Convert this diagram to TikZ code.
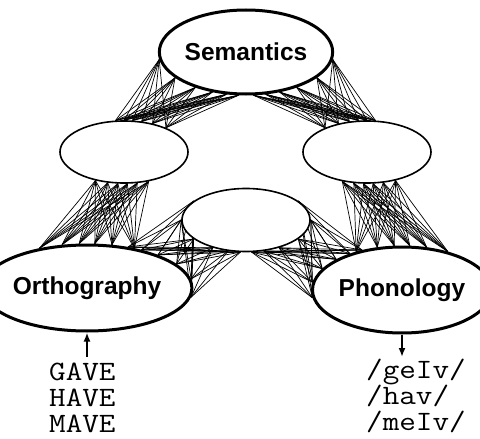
\documentclass[tikz,border=0pt]{standalone}
\usepackage{fontspec}
\setmainfont{Liberation Sans}
\newfontfamily\monofont[FakeStretch=1.15]{Latin Modern Mono}
\usetikzlibrary{shapes.geometric,arrows.meta,backgrounds}
\tikzset{
  bigell/.style={ellipse, draw, line width=3pt, fill=white, inner sep=0pt,
    font=\fontsize{24.5}{24.5}\selectfont\bfseries},
  hidell/.style={ellipse, draw, line width=1.6pt, fill=white, inner sep=0pt},
  conn/.style={line width=0.7pt},
  ioarrow/.style={line width=2.5pt, -{Latex[length=9pt,width=7pt]}},
  iotext/.style={font=\monofont\fontsize{28}{28}\selectfont, anchor=base west, inner sep=0pt}
}
\begin{document}
\begin{tikzpicture}[x=1pt,y=-1pt]
\useasboundingbox (0,0) rectangle (480,439);
\node[bigell, minimum width=160pt, minimum height=84pt] (S) at (246,52) {Semantics};
\node[hidell, minimum width=128pt, minimum height=62pt] (L) at (124,152) {};
\node[hidell, minimum width=128pt, minimum height=62pt] (R) at (367,152) {};
\node[hidell, minimum width=128pt, minimum height=63pt] (M) at (246,220) {};
\node[bigell, minimum width=160pt, minimum height=86pt] (O) at (87,288) {Orthography};
\node[bigell, minimum width=154pt, minimum height=86pt] (P) at (402,290) {Phonology};
\begin{scope}[on background layer]
  % Semantics -- left hidden
  \foreach \a in {185,200,215,230,245,260}
    \foreach \b in {30,45,60,75,90,105}
      \draw[conn] (S.\a) -- (L.\b);
  % Semantics -- right hidden
  \foreach \a in {280,295,310,325,340,355}
    \foreach \b in {75,90,105,120,135,150}
      \draw[conn] (S.\a) -- (R.\b);
  % left hidden -- Orthography
  \foreach \a in {225,242,259,276,293,310}
    \foreach \b in {40,60,80,100,120,140}
      \draw[conn] (L.\a) -- (O.\b);
  % right hidden -- Phonology
  \foreach \a in {230,247,264,281,298,315}
    \foreach \b in {40,60,80,100,120,140}
      \draw[conn] (R.\a) -- (P.\b);
  % middle hidden -- Orthography
  \foreach \a in {160,180,200,220,240,260}
    \foreach \b in {-5,5,15,25,35,45}
      \draw[conn] (M.\a) -- (O.\b);
  % middle hidden -- Phonology
  \foreach \a in {280,300,320,340,0,20}
    \foreach \b in {135,145,155,165,175,185}
      \draw[conn] (M.\a) -- (P.\b);
\end{scope}
\coordinate (ain) at (87,357);
\coordinate (aout) at (402,357);
\draw[ioarrow] (ain) -- (O.south);
\draw[ioarrow] (P.south) -- (aout);
\node[iotext] (g1) at (49,380) {GAVE};
\node[iotext] (g2) at (49,406) {HAVE};
\node[iotext] (g3) at (49,432) {MAVE};
\node[iotext] (p1) at (366,378) {/geIv/};
\node[iotext] (p2) at (366,404) {/hav/};
\node[iotext] (p3) at (366,430) {/meIv/};
\end{tikzpicture}
\end{document}
